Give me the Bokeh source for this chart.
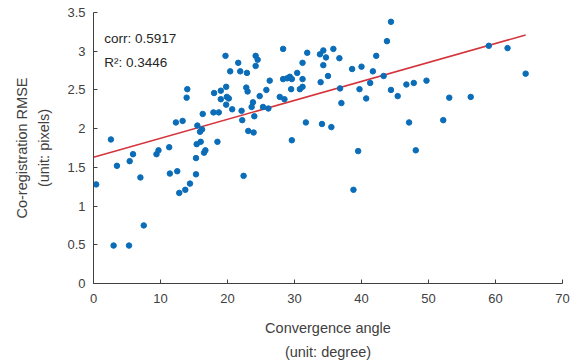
from bokeh.plotting import figure
from bokeh.models import (FixedTicker, CustomJSTickFormatter, Label, Title, Range1d)
from bokeh.embed import file_html
from bokeh.resources import INLINE

# Data
angle = [14.0, 13.9, 12.3, 13.3, 15.5, 2.6, 5.9, 5.4, 3.5, 9.4, 9.7, 11.3, 7.0, 0.4,
         11.4, 12.5, 12.8, 13.7, 14.4, 15.3, 15.3, 15.4, 7.5, 3.0, 5.3, 22.4, 16.5,
         16.7, 16.0, 18.5, 15.9, 16.2, 29.6, 23.1, 23.9, 31.7, 34.1, 35.5, 39.5, 38.8,
         48.1, 28.3, 19.7, 24.2, 24.5, 24.2, 21.6, 20.4, 21.9, 22.9, 26.3, 28.3, 28.9,
         29.3, 29.6, 30.4, 29.5, 22.8, 23.0, 25.8, 19.8, 19.0, 18.0, 19.9, 20.2, 19.0,
         19.8, 24.8, 27.8, 28.5, 23.8, 23.6, 25.3, 26.1, 20.7, 22.1, 17.9, 18.7, 16.3,
         22.2, 24.0, 44.4, 43.8, 31.9, 33.8, 34.3, 34.7, 35.8, 36.7, 31.2, 34.3, 42.2,
         35.0, 31.2, 33.9, 38.6, 40.0, 41.7, 41.3, 43.3, 36.8, 39.7, 44.4, 45.4, 40.7,
         37.0, 31.2, 30.8, 59.0, 61.8, 64.5, 46.7, 47.8, 49.7, 53.1, 56.3, 47.1, 52.2]
rmse = [2.51, 2.40, 2.08, 2.10, 2.04, 1.86, 1.67, 1.58, 1.52, 1.67, 1.72, 1.76, 1.37, 1.28,
        1.42, 1.45, 1.17, 1.21, 1.29, 1.41, 1.62, 1.80, 0.75, 0.49, 0.49, 1.39, 1.69,
        1.72, 1.83, 1.83, 1.96, 1.99, 1.85, 1.97, 1.95, 2.08, 2.06, 2.02, 1.71, 1.21,
        1.72, 3.03, 2.94, 2.94, 2.89, 2.81, 2.85, 2.74, 2.74, 2.72, 2.62, 2.64, 2.65,
        2.67, 2.64, 2.72, 2.51, 2.53, 2.48, 2.50, 2.54, 2.49, 2.46, 2.41, 2.39, 2.38,
        2.31, 2.42, 2.41, 2.38, 2.34, 2.28, 2.28, 2.26, 2.25, 2.23, 2.21, 2.21, 2.19,
        2.11, 2.16, 3.38, 3.13, 2.98, 2.96, 3.01, 2.92, 3.03, 2.91, 2.85, 2.82, 2.94,
        2.68, 2.64, 2.60, 2.77, 2.80, 2.74, 2.59, 2.68, 2.52, 2.51, 2.50, 2.42, 2.39,
        2.33, 2.54, 2.51, 3.07, 3.04, 2.71, 2.57, 2.59, 2.62, 2.40, 2.41, 2.08, 2.11]

fit_intercept = 1.63
fit_slope = 0.0245
fit_x = [0, max(angle)]
fit_y = [fit_intercept + fit_slope * v for v in fit_x]

x_ticks = [0, 10, 20, 30, 40, 50, 60, 70]
y_ticks = [0, 0.5, 1, 1.5, 2, 2.5, 3, 3.5]
corr_text = "corr: 0.5917"
r2_text = "R\u00b2: 0.3446"

FONT = "Liberation Sans"
TXT = "#262626"
GREY = "#404040"

p = figure(output_backend="svg", toolbar_location=None,
           x_range=Range1d(0, 70), y_range=Range1d(0, 3.5),
           frame_width=469, frame_height=271,
           min_border_left=93, min_border_right=14, min_border_top=12, min_border_bottom=5)
p.outline_line_color = None
p.grid.visible = False
p.background_fill_color = "white"
p.border_fill_color = "white"

p.line(fit_x, fit_y, line_color="#d4343c", line_width=1.5)
p.scatter(angle, rmse, size=5.5, fill_color="#0b6db8", line_color="#0b6db8")

fmt = CustomJSTickFormatter(code="return tick.toString();")
for ax, ticks in ((p.xaxis[0], x_ticks), (p.yaxis[0], y_ticks)):
    ax.ticker = FixedTicker(ticks=ticks)
    ax.formatter = fmt
    ax.major_tick_in = 4
    ax.major_tick_out = 0
    ax.minor_tick_in = 0
    ax.minor_tick_out = 0
    ax.axis_line_color = GREY
    ax.major_tick_line_color = GREY
    ax.major_label_text_font = FONT
    ax.major_label_text_font_size = "13px"
    ax.major_label_text_color = GREY
    ax.axis_label_text_font = FONT
    ax.axis_label_text_font_size = "14.5px"
    ax.axis_label_text_font_style = "normal"
    ax.axis_label_text_color = GREY

p.xaxis.major_label_standoff = 10
p.yaxis.major_label_standoff = 8
p.xaxis.axis_label = "Convergence angle"
p.xaxis.axis_label_standoff = 14
p.yaxis.axis_label = "(unit: pixels)"
p.yaxis.axis_label_standoff = 12

t_below = Title(text="(unit: degree)", align="center", text_font=FONT,
                text_font_size="14.5px", text_font_style="normal", text_color=GREY,
                standoff=7)
p.add_layout(t_below, "below")
t_left = Title(text="Co-registration RMSE", align="center", text_font=FONT,
               text_font_size="14.5px", text_font_style="normal", text_color=GREY,
               standoff=7)
p.add_layout(t_left, "left")

p.add_layout(Label(x=1.6, y=3.16, text=corr_text, text_font=FONT, text_font_size="13.5px",
                   text_color=TXT, text_baseline="middle"))
p.add_layout(Label(x=1.6, y=2.86, text=r2_text, text_font=FONT, text_font_size="13.5px",
                   text_color=TXT, text_baseline="middle"))

open("out.html", "w").write(file_html(p, INLINE))
